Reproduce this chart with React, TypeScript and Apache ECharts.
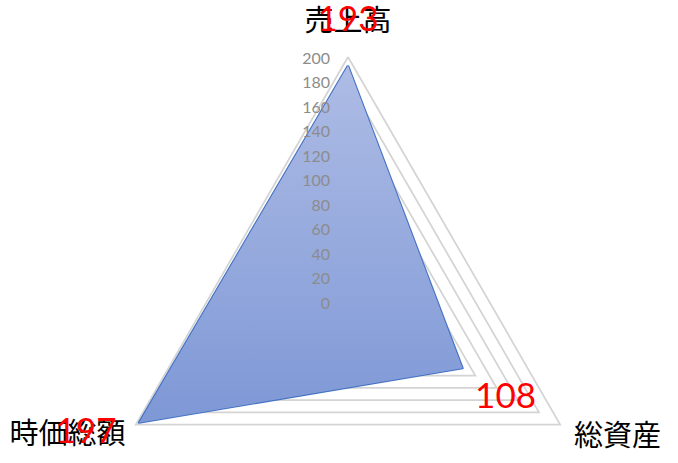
import React, { useEffect, useRef } from 'react';
import * as echarts from 'echarts';

// indicators in the radar's own order: top, then counter-clockwise
const indicatorNames = ['売上高', '時価総額', '総資産'];
const seriesValues = [193, 197, 108];
const axisTicks = [0, 20, 40, 60, 80, 100, 120, 140, 160, 180, 200];

const axisMin = axisTicks[0];
const axisMax = axisTicks[axisTicks.length - 1];
const splitNumber = axisTicks.length - 1;

// distance of each name from the outer ring
const nameGaps = [39, 12, 16];
// shift of each data label off its vertex: [top, right, bottom, left] padding
const labelPads = [
  [0, 0, 98, 0],
  [12, 106, 0, 0],
  [52, 0, 0, 86],
];

const App: React.FC = () => {
  const chartRef = useRef<HTMLDivElement>(null);

  useEffect(() => {
    if (!chartRef.current) return;
    const chart = echarts.init(chartRef.current, null, { renderer: 'svg' });

    const rich: Record<string, any> = {};
    labelPads.forEach((pad, i) => {
      rich['d' + i] = {
        color: '#ff0000',
        fontSize: 35,
        fontFamily: 'Lato',
        padding: pad,
      };
    });

    const option = {
      animation: false,
      backgroundColor: '#ffffff',
      radar: [
        {
          center: [348, 302],
          radius: 245,
          startAngle: 90,
          splitNumber,
          shape: 'polygon',
          indicator: indicatorNames.map((name, i) => ({
            name,
            min: axisMin,
            max: axisMax,
            nameGap: nameGaps[i],
          })),
          axisName: {
            color: '#000000',
            fontSize: 29,
            fontFamily: 'Noto Sans CJK JP',
            verticalAlign: 'middle',
          },
          splitLine: { lineStyle: { color: '#d4d4d4', width: 1.75 } },
          splitArea: { show: false },
          axisLine: { show: false },
          axisTick: { show: false },
          axisLabel: { show: false },
        },
        {
          // second copy of the axes only for the value labels, above the fill
          z: 5,
          center: [348, 302],
          radius: 245,
          startAngle: 90,
          splitNumber,
          shape: 'polygon',
          indicator: indicatorNames.map((name, i) => ({
            name,
            min: axisMin,
            max: axisMax,
            axisLabel: { show: i === 0 },
          })),
          axisName: { show: false },
          splitLine: { show: false },
          splitArea: { show: false },
          axisLine: { show: false },
          axisTick: { show: false },
          axisLabel: {
            show: false,
            color: '#8c8c8c',
            fontSize: 16,
            fontFamily: 'Lato',
            margin: 18,
          },
        },
      ],
      series: [
        {
          type: 'radar',
          radarIndex: 0,
          symbol: 'circle',
          symbolSize: 0,
          z: 2,
          lineStyle: { color: '#4472c4', width: 2.25 },
          itemStyle: { color: '#4472c4' },
          areaStyle: {
            opacity: 1,
            color: new echarts.graphic.LinearGradient(0, 0, 0, 1, [
              { offset: 0, color: '#aebce5' },
              { offset: 1, color: '#7e98d6' },
            ]),
          },
          label: {
            show: true,
            position: 'inside',
            color: '#ff0000',
            fontSize: 35,
            fontFamily: 'Lato',
            formatter: (p: any) => {
              const i = seriesValues.indexOf(p.value);
              return `{d${i}|${p.value}}`;
            },
            rich,
          },
          data: [{ value: seriesValues, name: '系列1' }],
        },
      ],
    };

    chart.setOption(option);
    return () => {
      chart.dispose();
    };
  }, []);

  return (
    <div
      ref={chartRef}
      style={{ position: 'fixed', left: 0, top: 0, width: 678, height: 463 }}
    />
  );
};

export default App;
